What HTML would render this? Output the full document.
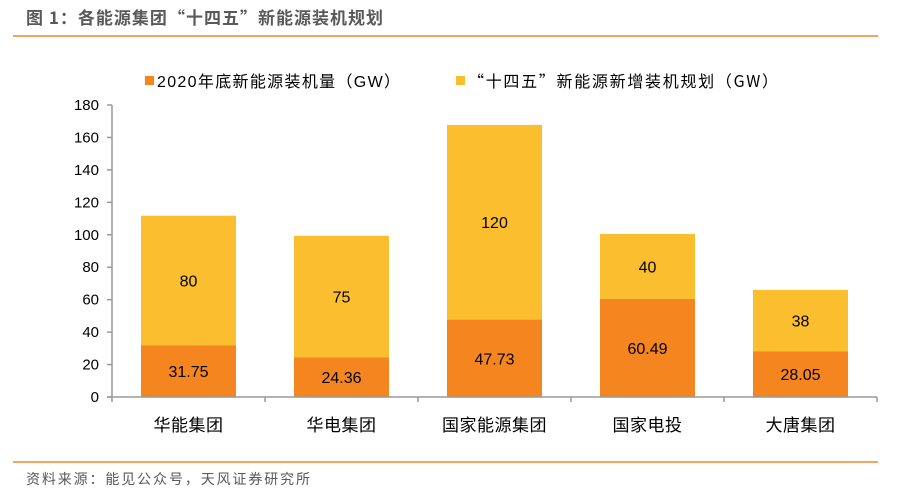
<!DOCTYPE html>
<html><head><meta charset="utf-8"><style>
body{margin:0;background:#fff;font-family:"Liberation Sans","Noto Sans CJK SC",sans-serif;}
#wrap{position:relative;width:899px;height:498px;overflow:hidden;}
</style></head><body>
<div id="wrap">
<svg id="svg" width="899" height="498" xmlns="http://www.w3.org/2000/svg">
<text x="26" y="24" font-size="17" font-weight="bold" fill="#595959" font-family="Noto Sans CJK SC,sans-serif" textLength="357" lengthAdjust="spacing">图 1：各能源集团“十四五”新能源装机规划</text>
<line x1="13" y1="36" x2="878" y2="36" stroke="#F0892A" stroke-width="1.5"/>
<line x1="13" y1="462" x2="878" y2="462" stroke="#F0892A" stroke-width="1.5"/>
<text x="26" y="484" font-size="14" fill="#595959" font-family="Liberation Sans,Noto Sans CJK SC,sans-serif" textLength="284" lengthAdjust="spacing">资料来源：能见公众号，天风证券研究所</text>
<g>
<rect x="145" y="76" width="9" height="9" fill="#F5851F"/>
<text x="157" y="87" font-size="16" fill="#000" font-family="Liberation Sans,Noto Sans CJK SC,sans-serif" textLength="243" lengthAdjust="spacing">2020年底新能源装机量（GW）</text>
<rect x="456" y="76" width="9" height="9" fill="#FBBE2E"/>
<text x="468" y="87" font-size="16" fill="#000" font-family="Noto Sans CJK SC,sans-serif" textLength="310" lengthAdjust="spacing">“十四五”新能源新增装机规划（GW）</text>
</g>
<g id="plot"></g>
</svg>
</div>
<script>
const categories=["华能集团","华电集团","国家能源集团","国家电投","大唐集团"];
const installed2020=[31.75,24.36,47.73,60.49,28.05];
const planned=[80,75,120,40,38];
const installedLabels=["31.75","24.36","47.73","60.49","28.05"];
const plannedLabels=["80","75","120","40","38"];
const yTicks=[0,20,40,60,80,100,120,140,160,180];
const X0=112,Y0=397,YT=105,YMAX=180,BAND=153,BW=95;
const y=v=>Y0-(v/YMAX)*(Y0-YT);
const xc=i=>X0+BAND*(i+0.5);
const NS="http://www.w3.org/2000/svg";
const g=document.getElementById('plot');
function mk(t,a){const e=document.createElementNS(NS,t);for(const k in a)e.setAttribute(k,a[k]);g.appendChild(e);return e;}
const F="Liberation Sans,Noto Sans CJK SC,sans-serif";
let ax=mk('line',{x1:X0,y1:YT,x2:X0,y2:Y0,stroke:'#999','stroke-width':1.5});


yTicks.forEach(v=>{
 let t=mk('line',{x1:X0-5,y1:y(v),x2:X0,y2:y(v),stroke:'#999','stroke-width':1.5});
 
 
 let l=mk('text',{x:X0-13,y:y(v)+5,'font-size':15,'text-anchor':'end','font-family':F,fill:'#000'});
 l.textContent=v;
 
 
});
categories.forEach((c,i)=>{
 const a=installed2020[i],b=planned[i],x=xc(i)-BW/2;
 let r1=mk('rect',{x:x,y:y(a),width:BW,height:Y0-y(a),fill:'#F5851F'});
 
 
 let r2=mk('rect',{x:x,y:y(a+b),width:BW,height:y(a)-y(a+b),fill:'#FBBE2E'});
 
 
 let t1=mk('text',{x:xc(i),y:(y(a)+Y0)/2+6,'font-size':16,'text-anchor':'middle','font-family':F,fill:'#000'});
 t1.textContent=installedLabels[i];
 
 
 let t2=mk('text',{x:xc(i),y:(y(a)+y(a+b))/2+6,'font-size':16,'text-anchor':'middle','font-family':F,fill:'#000'});
 t2.textContent=plannedLabels[i];
 
 
 let cl=mk('text',{x:xc(i),y:431,'font-size':17,'text-anchor':'middle','font-family':F,fill:'#000','letter-spacing':0.5});
 cl.textContent=c;
 
 
});
for(let i=0;i<=categories.length;i++){
 let t=mk('line',{x1:X0+BAND*i,y1:Y0,x2:X0+BAND*i,y2:Y0+5,stroke:'#999','stroke-width':1.5});
 
 
}
let xa=mk('line',{x1:X0-5,y1:Y0,x2:X0+BAND*categories.length,y2:Y0,stroke:'#999','stroke-width':1.5});


</script>
</body></html>
